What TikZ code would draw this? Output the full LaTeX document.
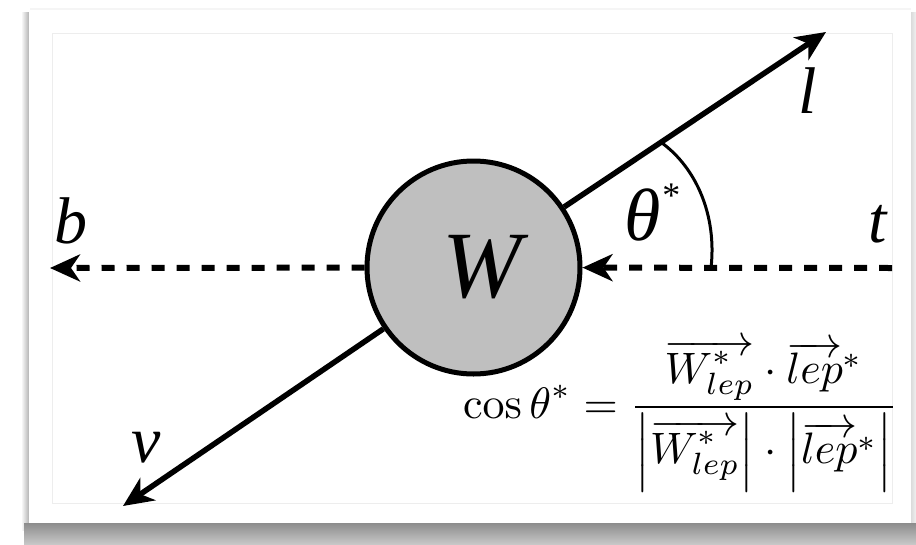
\documentclass[tikz,border=0pt]{standalone}
\usepackage[no-math]{fontspec}
\setmainfont{Liberation Serif}
\newfontfamily\timesit{Liberation Serif Italic}
\usepackage{graphicx}
\usetikzlibrary{arrows.meta}
\begin{document}
\begin{tikzpicture}[x=1pt,y=-1pt,
  lbl/.style={font=\timesit\fontsize{66}{70}\selectfont, inner sep=0pt},
  solidline/.style={line width=5.5pt},
  dashline/.style={line width=6pt, dash pattern=on 13pt off 12pt},
  tipA/.style={-{Stealth[length=30pt,width=27pt,inset=9pt]}},
  frameline/.style={draw=black!7, line width=1pt},
]
\useasboundingbox (0,0) rectangle (916,544);
\fill[white] (0,0) rectangle (916,544);
% card shadow
\shade[left color=white, right color=black!30] (21,12) rectangle (29,530);
\shade[left color=black!14, right color=black!6] (911,12) rectangle (916,530);
\shade[top color=black!45, bottom color=black!22] (24,523) rectangle (916,544);
\fill[black!4] (30,8) rectangle (911,10);
% card
\fill[white] (29,10) rectangle (911,523);
\draw[frameline] (52,33) rectangle (892,503);
% coordinates
\coordinate (ltip) at (826,32);
\coordinate (vtip) at (123,506);
\coordinate (btip) at (50,268);
\coordinate (tend) at (892,268);
\coordinate (arcA) at (662,143);
\coordinate (arcB) at (711,268);
% W node
\node[circle, draw, line width=5pt, fill=black!25, minimum size=213pt, inner sep=0pt,
      font=\timesit\fontsize{95}{100}\selectfont] (W) at (473.5,267.5) {\hspace*{18pt}W};
% connectors
\draw[solidline, tipA] (W) -- (ltip);
\draw[solidline, tipA] (W) -- (vtip);
\draw[dashline, tipA] (W) -- (btip);
\draw[dashline, tipA] (tend) -- (W);
% angle arc
\draw[line width=3pt] (arcA) .. controls (696,168) and (717,215) .. (arcB);
% labels
\node[lbl, anchor=base] (lb) at (71,243) {b};
\node[lbl, anchor=base] (lt) at (878,242) {t};
\node[lbl, anchor=base] (ll) at (808,113) {l};
\node[lbl, anchor=base] (lv) at (146,462) {v};
\node[inner sep=0pt, anchor=base west, font=\timesit\fontsize{74}{80}\selectfont] (lth) at (624,240) {θ\raisebox{33pt}{\fontsize{36}{36}\selectfont *}};
% formula
\node[anchor=base east, inner sep=0pt] (f) at (898,418) {\scalebox{4.4}{$\displaystyle \cos\theta^* = \frac{\overrightarrow{W^*_{lep}}\cdot\overrightarrow{lep}{}^*}{\left|\overrightarrow{W^*_{lep}}\right|\cdot\left|\overrightarrow{lep}{}^*\right|}$}};
\end{tikzpicture}
\end{document}
